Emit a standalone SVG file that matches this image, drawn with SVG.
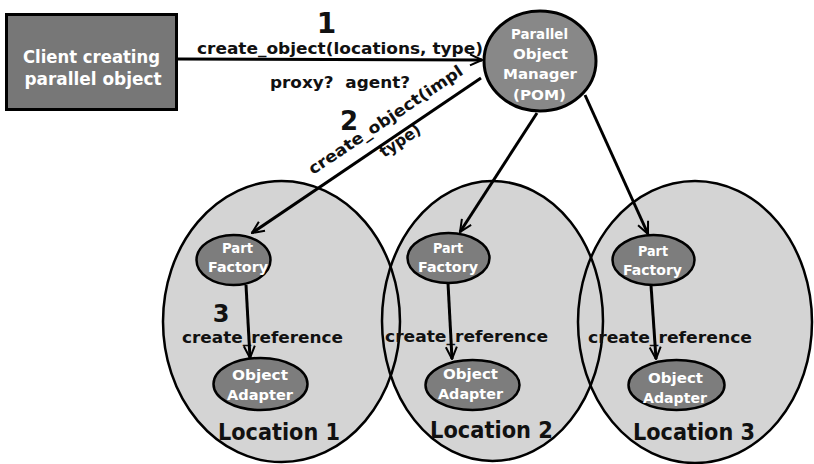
<svg xmlns="http://www.w3.org/2000/svg" width="814" height="464" viewBox="0 0 814 464">
  <style>
    text { font-family: "DejaVu Sans", "Liberation Sans", sans-serif; font-weight: bold; }
    .w { fill: #ffffff; }
    .k { fill: #111111; }
    .loc { fill: #d4d4d4; stroke: none; }
    .locline { fill: none; stroke: #000; stroke-width: 2.5; }
    .sm { fill: #7d7d7d; stroke: #000; stroke-width: 2.5; }
    .edge { fill: none; stroke: #000; stroke-width: 3; marker-end: url(#arr); }
  </style>
  <defs>
    <marker id="arr" viewBox="0 0 14 14" refX="13" refY="7" markerWidth="14" markerHeight="14" markerUnits="userSpaceOnUse" orient="auto">
      <path d="M1,1.5 L13,7 L1,12.5" fill="none" stroke="#000" stroke-width="2"/>
    </marker>
  </defs>
  <rect width="814" height="464" fill="#ffffff"/>

  <!-- location fills first, outlines on top so every arc stays visible -->
  <g id="locations-fill">
    <ellipse class="loc" cx="281.5" cy="321.5" rx="118.5" ry="140.5"/>
    <ellipse class="loc" cx="492.5" cy="321" rx="110.5" ry="140"/>
    <ellipse class="loc" cx="695" cy="322" rx="117" ry="141"/>
  </g>

  <g id="location1">
    <ellipse class="locline" cx="281.5" cy="321.5" rx="118.5" ry="140.5"/>
    <text class="k" x="279" y="440" font-size="23" text-anchor="middle" textLength="122" lengthAdjust="spacingAndGlyphs">Location 1</text>
  </g>
  <g id="location2">
    <ellipse class="locline" cx="492.5" cy="321" rx="110.5" ry="140"/>
    <text class="k" x="491.5" y="438" font-size="23" text-anchor="middle" textLength="123" lengthAdjust="spacingAndGlyphs">Location 2</text>
  </g>
  <g id="location3">
    <ellipse class="locline" cx="695" cy="322" rx="117" ry="141"/>
    <text class="k" x="694" y="440" font-size="23" text-anchor="middle" textLength="122" lengthAdjust="spacingAndGlyphs">Location 3</text>
  </g>

  <g id="client">
    <rect x="6.5" y="14.5" width="170" height="95" fill="#777777" stroke="#000" stroke-width="3"/>
    <text class="w" x="91.5" y="63" font-size="17" text-anchor="middle" textLength="137" lengthAdjust="spacingAndGlyphs">Client creating</text>
    <text class="w" x="93" y="85" font-size="17" text-anchor="middle" textLength="137" lengthAdjust="spacingAndGlyphs">parallel object</text>
  </g>

  <g id="pom">
    <ellipse cx="540" cy="61" rx="56" ry="50" fill="#888888" stroke="#000" stroke-width="3"/>
    <text class="w" x="539.5" y="39" font-size="14" text-anchor="middle" textLength="57" lengthAdjust="spacingAndGlyphs">Parallel</text>
    <text class="w" x="540.5" y="59" font-size="14" text-anchor="middle" textLength="55" lengthAdjust="spacingAndGlyphs">Object</text>
    <text class="w" x="540" y="79" font-size="14" text-anchor="middle" textLength="74" lengthAdjust="spacingAndGlyphs">Manager</text>
    <text class="w" x="539.5" y="100" font-size="14" text-anchor="middle" textLength="53" lengthAdjust="spacingAndGlyphs">(POM)</text>
  </g>

  <g id="factory1">
    <ellipse class="sm" cx="233.5" cy="260" rx="37" ry="25"/>
    <text class="w" x="237.5" y="253" font-size="14" text-anchor="middle" textLength="31" lengthAdjust="spacingAndGlyphs">Part</text>
    <text class="w" x="238" y="272" font-size="14" text-anchor="middle" textLength="60" lengthAdjust="spacingAndGlyphs">Factory</text>
  </g>
  <g id="adapter1">
    <ellipse class="sm" cx="260.5" cy="384" rx="47" ry="26"/>
    <text class="w" x="260" y="380" font-size="14" text-anchor="middle" textLength="56" lengthAdjust="spacingAndGlyphs">Object</text>
    <text class="w" x="260" y="400" font-size="14" text-anchor="middle" textLength="66" lengthAdjust="spacingAndGlyphs">Adapter</text>
  </g>

  <g id="factory2">
    <ellipse class="sm" cx="448.5" cy="258" rx="41" ry="25"/>
    <text class="w" x="448" y="253" font-size="14" text-anchor="middle" textLength="30" lengthAdjust="spacingAndGlyphs">Part</text>
    <text class="w" x="448" y="272" font-size="14" text-anchor="middle" textLength="60" lengthAdjust="spacingAndGlyphs">Factory</text>
  </g>
  <g id="adapter2">
    <ellipse class="sm" cx="472.5" cy="385" rx="47" ry="25"/>
    <text class="w" x="470.5" y="379" font-size="14" text-anchor="middle" textLength="55" lengthAdjust="spacingAndGlyphs">Object</text>
    <text class="w" x="470.5" y="399" font-size="14" text-anchor="middle" textLength="65" lengthAdjust="spacingAndGlyphs">Adapter</text>
  </g>

  <g id="factory3">
    <ellipse class="sm" cx="653.5" cy="260" rx="41" ry="25"/>
    <text class="w" x="653" y="256" font-size="14" text-anchor="middle" textLength="30" lengthAdjust="spacingAndGlyphs">Part</text>
    <text class="w" x="652.5" y="275" font-size="14" text-anchor="middle" textLength="59" lengthAdjust="spacingAndGlyphs">Factory</text>
  </g>
  <g id="adapter3">
    <ellipse class="sm" cx="676.5" cy="385" rx="48" ry="25"/>
    <text class="w" x="675.5" y="383" font-size="14" text-anchor="middle" textLength="55" lengthAdjust="spacingAndGlyphs">Object</text>
    <text class="w" x="675" y="403" font-size="14" text-anchor="middle" textLength="64" lengthAdjust="spacingAndGlyphs">Adapter</text>
  </g>

  <!-- labels -->
  <g id="labels">
    <text class="k" x="326.5" y="33" font-size="28" text-anchor="middle">1</text>
    <text class="k" x="340" y="54" font-size="16" text-anchor="middle" textLength="286" lengthAdjust="spacingAndGlyphs">create_object(locations, type)</text>
    <text class="k" x="340" y="88" font-size="16" text-anchor="middle" textLength="140" lengthAdjust="spacingAndGlyphs" style="white-space: pre">proxy?  agent?</text>
    <text class="k" x="349" y="130" font-size="26" text-anchor="middle">2</text>
    <text class="k" font-size="16" transform="translate(313,175) rotate(-33.8)" textLength="182" lengthAdjust="spacingAndGlyphs">create_object(impl</text>
    <text class="k" font-size="16" transform="translate(384,158) rotate(-33.8)" textLength="46" lengthAdjust="spacingAndGlyphs">type)</text>
    <text class="k" x="221" y="322" font-size="24" text-anchor="middle">3</text>
    <text class="k" x="262.5" y="343" font-size="16" text-anchor="middle" textLength="161" lengthAdjust="spacingAndGlyphs">create_reference</text>
    <text class="k" x="466.5" y="342" font-size="16" text-anchor="middle" textLength="163" lengthAdjust="spacingAndGlyphs">create_reference</text>
    <text class="k" x="670" y="343" font-size="16" text-anchor="middle" textLength="164" lengthAdjust="spacingAndGlyphs">create_reference</text>
  </g>

  <g id="connectors">
    <line class="edge" x1="178" y1="59" x2="482" y2="60"/>
    <line class="edge" x1="481" y1="78" x2="252" y2="233"/>
    <line class="edge" x1="537" y1="113" x2="460" y2="232"/>
    <line class="edge" x1="585" y1="95" x2="648" y2="234"/>
    <line class="edge" x1="246" y1="285" x2="250" y2="358"/>
    <line class="edge" x1="448" y1="283" x2="452" y2="359"/>
    <line class="edge" x1="651" y1="285" x2="656" y2="359"/>
  </g>
</svg>
